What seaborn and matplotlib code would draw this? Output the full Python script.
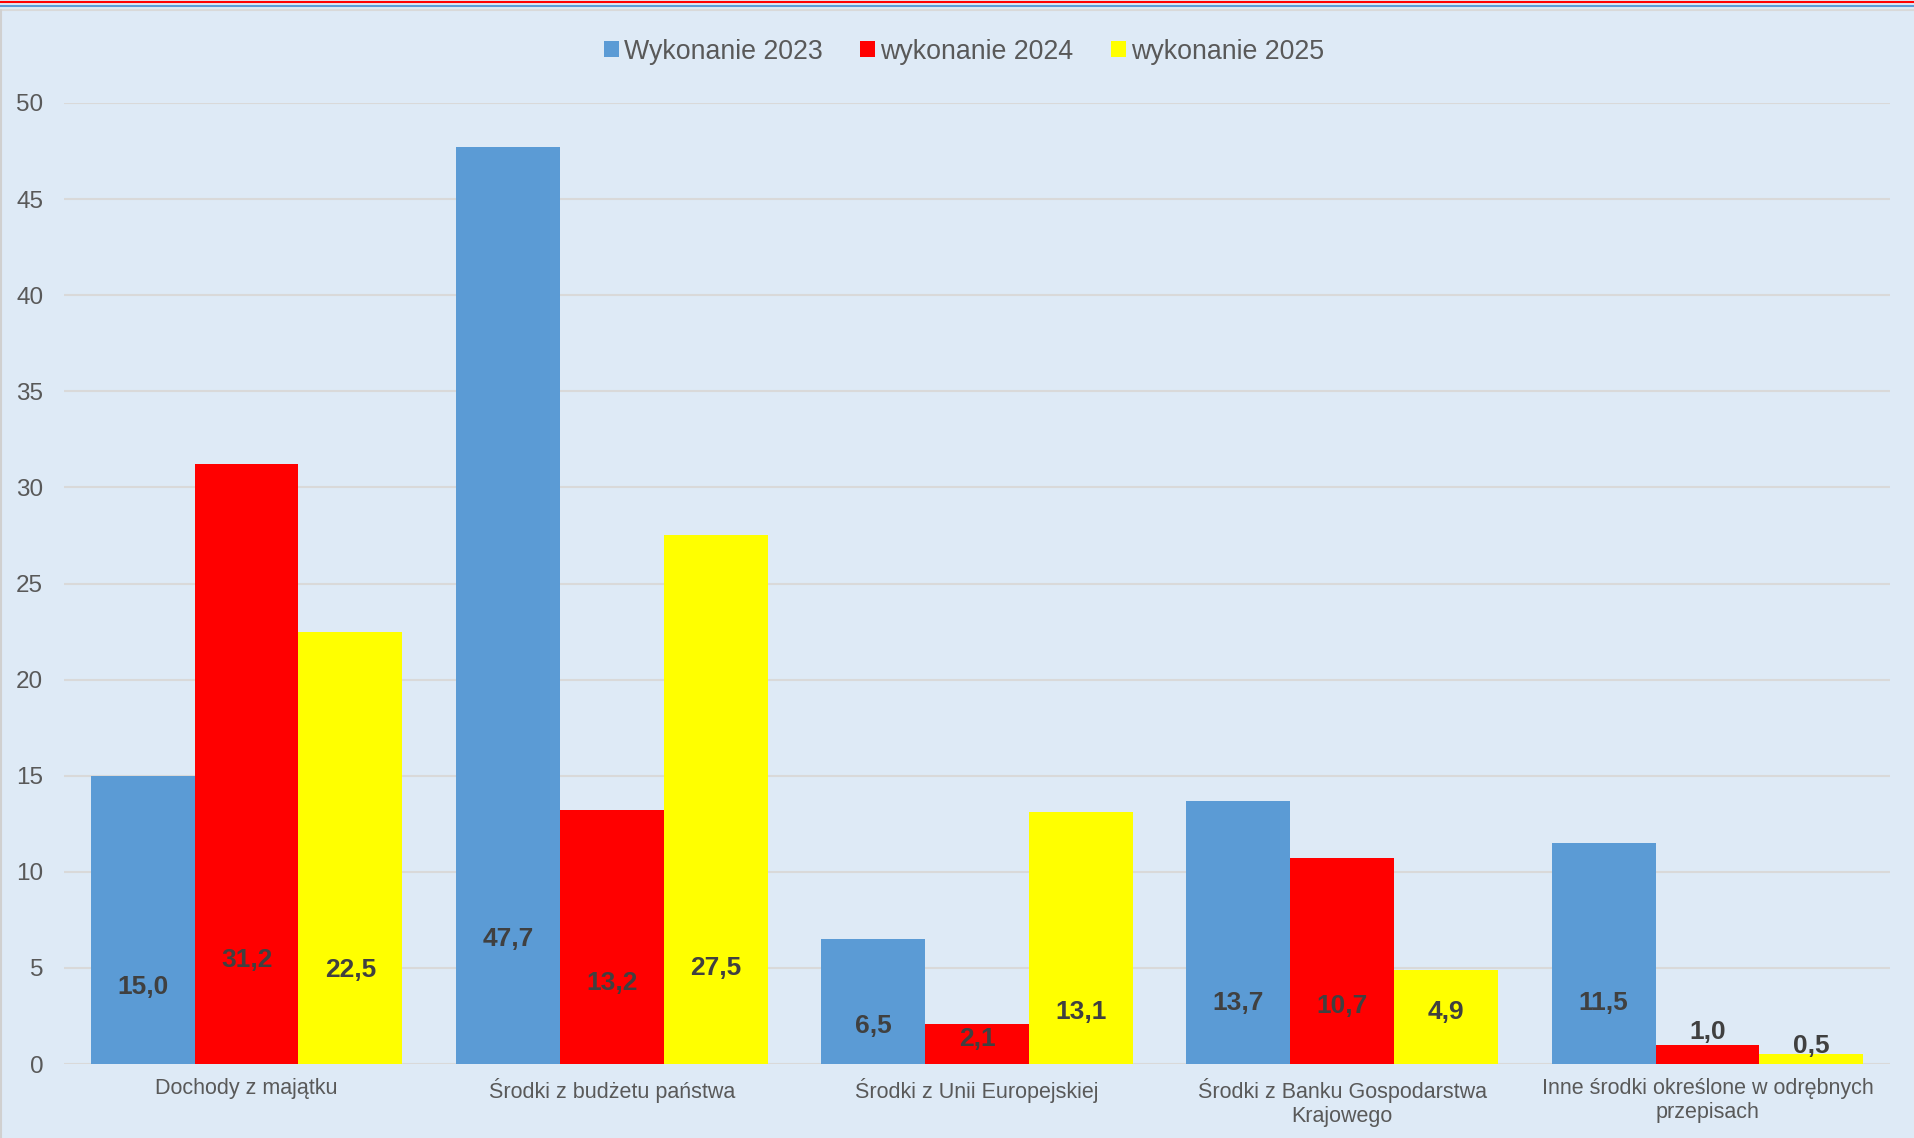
import seaborn as sns
import matplotlib.pyplot as plt
import pandas as pd
from matplotlib.lines import Line2D

categories = ['Dochody z majątku', 'Środki z budżetu państwa', 'Środki z Unii Europejskiej',
              'Środki z Banku Gospodarstwa\nKrajowego', 'Inne środki określone w odrębnych\nprzepisach']
series = ['Wykonanie 2023', 'wykonanie 2024', 'wykonanie 2025']
v2023 = [15.0, 47.7, 6.5, 13.7, 11.5]
v2024 = [31.2, 13.2, 2.1, 10.7, 1.0]
v2025 = [22.5, 27.5, 13.1, 4.9, 0.5]

# label heights (data units) as placed in the original chart
lab_y = [[4.0, 6.5, 2.0, 3.2, 3.2],
         [5.4, 4.2, 1.3, 3.0, 1.65],
         [4.9, 5.0, 2.7, 2.7, 0.95]]

colors = ['#5B9BD5', '#FF0000', '#FFFF00']
bg = '#DEEAF6'

df = pd.DataFrame({
    'kategoria': categories * 3,
    'seria': [s for s in series for _ in categories],
    'wartosc': v2023 + v2024 + v2025,
})

sns.set_style('white')
plt.rcParams['font.family'] = ['Liberation Sans', 'DejaVu Sans']

fig = plt.figure(figsize=(19.15, 11.38), dpi=100, facecolor=bg)
ax = fig.add_axes([0.0334, 0.065, 0.9536, 0.8445])
ax.set_facecolor(bg)

sns.barplot(data=df, x='kategoria', y='wartosc', hue='seria', palette=colors,
            width=0.853, gap=0, saturation=1, ax=ax, linewidth=0)

ax.set_ylim(0, 50)
ax.set_xlim(-0.5, 4.5)
ax.set_yticks(range(0, 51, 5))
ax.yaxis.grid(True, color='#D9D9D9', linewidth=1.5)
ax.set_axisbelow(True)
for s in ax.spines.values():
    s.set_visible(False)
ax.tick_params(axis='y', length=0, pad=15, labelsize=17.5, labelcolor='#595959')
ax.tick_params(axis='x', length=0, pad=10, labelsize=15.5, labelcolor='#595959')
ax.set_xlabel('')
ax.set_ylabel('')

for i, cont in enumerate(ax.containers):
    for j, bar in enumerate(cont):
        x = bar.get_x() + bar.get_width() / 2
        ax.text(x, lab_y[i][j], f'{bar.get_height():.1f}'.replace('.', ','),
                ha='center', va='center', fontsize=19, fontweight='bold', color='#404040')

leg = ax.legend(loc='center', bbox_to_anchor=(0.5035, 0.9545), bbox_transform=fig.transFigure,
                ncol=3, frameon=False, fontsize=19.3, handlelength=0.55, handleheight=0.55,
                handletextpad=0.2, columnspacing=1.4)
for t in leg.get_texts():
    t.set_color('#595959')

# decorative border lines at the top and left edge
H = 1138
for y, c, w in [(1.5, '#FF0000', 1.5), (5.5, '#5B9BD5', 1.5), (9.5, '#D9D9D9', 1.5)]:
    fig.add_artist(Line2D([0, 1], [1 - y / H, 1 - y / H], color=c, linewidth=w, transform=fig.transFigure))
fig.add_artist(Line2D([0.0005, 0.0005], [0, 1 - 10 / H], color='#D0D0D0', linewidth=1.5, transform=fig.transFigure))

plt.savefig('out.png', dpi=100, facecolor=bg)
